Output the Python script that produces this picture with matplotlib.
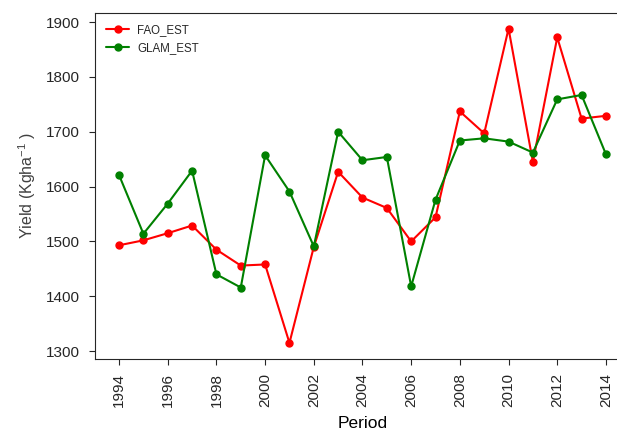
import numpy as np
import matplotlib
matplotlib.use('Agg')
import matplotlib.pyplot as plt
import seaborn as sns

#### DATA #####
years = list(range(1994, 2015))
fao_est = [1493, 1502, 1515, 1529, 1485, 1456, 1458, 1315, 1490, 1627, 1580,
           1561, 1500, 1544, 1737, 1697, 1888, 1645, 1872, 1724, 1729]
glam_est = [1621, 1514, 1569, 1629, 1440, 1416, 1657, 1591, 1491, 1700, 1648,
            1654, 1418, 1576, 1684, 1688, 1682, 1662, 1759, 1767, 1659]
xticks = list(range(1994, 2015, 2))

sns.set_style('ticks')
plt.rcParams['font.family'] = ['Liberation Sans', 'DejaVu Sans']
plt.rcParams['mathtext.fontset'] = 'custom'
plt.rcParams['mathtext.rm'] = 'Liberation Sans'
plt.rcParams['mathtext.it'] = 'Liberation Sans:italic'

fig = plt.figure(figsize=(6.17, 4.30), dpi=100)
# right edge of the axes falls just outside the picture, as in the reference
ax = fig.add_axes([0.1535, 0.166, 0.868, 0.804])

ax.plot(years, fao_est, color='red', marker='o', markersize=5, lw=1.5, label='FAO_EST')
ax.plot(years, glam_est, color='green', marker='o', markersize=5, lw=1.5, label='GLAM_EST')

ax.set_xticks(xticks)
ax.set_xticklabels([str(y) for y in xticks], rotation=90)
ax.set_yticks([1300, 1400, 1500, 1600, 1700, 1800, 1900])
ax.tick_params(axis='both', labelsize=11, length=4, colors='.15')
ax.tick_params(axis='y', pad=7)
ax.tick_params(axis='x', pad=6)

ax.set_xlabel('Period', fontsize=12.5, color='black', labelpad=7)
ax.set_ylabel(r'Yield (Kgha$^{-1}$ )', fontsize=11.5, color='.25', labelpad=5)

ax.legend(loc='upper left', fontsize=8.3, frameon=False, handlelength=2.0,
          handletextpad=0.7, borderaxespad=0.6)

fig.savefig('out.png', dpi=100)
